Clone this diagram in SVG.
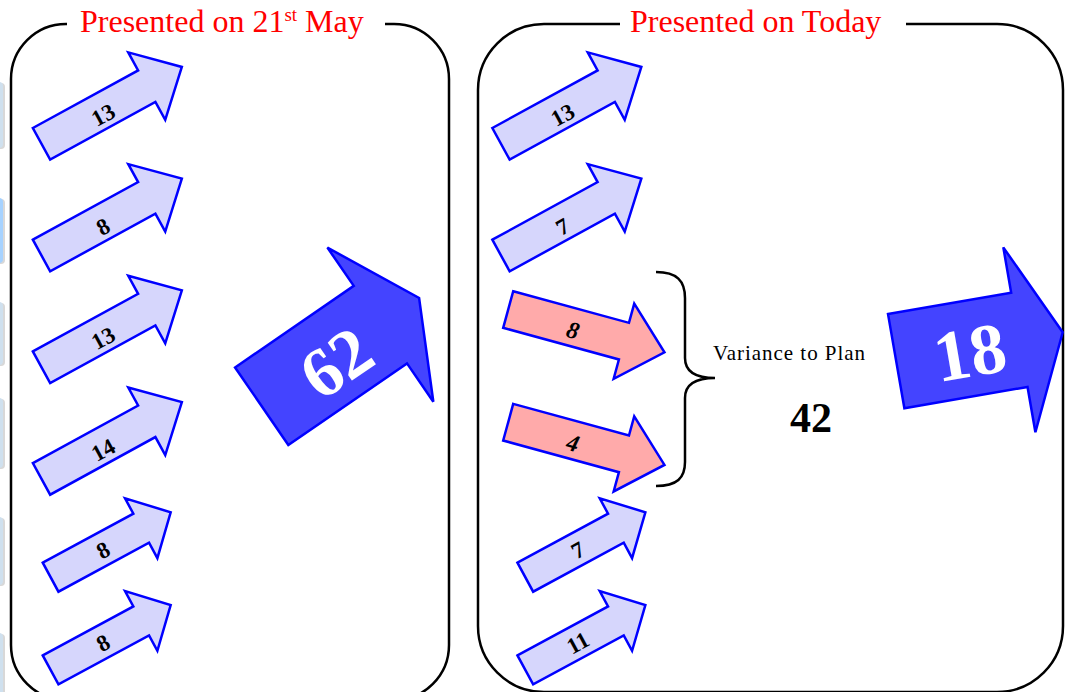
<svg xmlns="http://www.w3.org/2000/svg" width="1071" height="692" viewBox="0 0 1071 692">
  <defs>
    <style>
      .frame { fill: none; stroke: #000; stroke-width: 2.5; }
      .title { font-family: "Liberation Serif", "Times New Roman", serif; font-size: 32px; fill: #ff0000; }
      .lite { fill: #d6d6fc; stroke: #0000ff; stroke-width: 2.5; stroke-linejoin: miter; }
      .pink { fill: #ffaaaa; stroke: #0000ff; stroke-width: 2.5; }
      .bold { fill: #4444ff; stroke: #0000ff; stroke-width: 2.5; }
      .lbl { font-family: "Liberation Serif", "Times New Roman", serif; font-weight: bold; font-size: 23px; fill: #000; text-anchor: middle; }
      .lbl-i { font-family: "Liberation Serif", "Times New Roman", serif; font-weight: bold; font-style: italic; font-size: 24px; fill: #000; text-anchor: middle; }
      .big { font-family: "Liberation Serif", "Times New Roman", serif; font-weight: bold; fill: #fff; text-anchor: middle; }
      .note { font-family: "Liberation Serif", "Times New Roman", serif; fill: #000; }
      .tab { fill: #cfe0ee; }
      .tab-on { fill: #a6d2ff; }
      .tab-shade { fill: #d8d8d8; }
    </style>
    <!-- arrow outlines, tail centred on the origin, pointing along +x -->
    <path id="arrowA" d="M0,-18 H120 V-38.5 L160,0 L120,38.5 V18 H0 Z"/>
    <path id="arrowB" d="M0,-19 H120 V-39 L162,0 L120,39 V19 H0 Z"/>
    <path id="arrowC" d="M0,-16.5 H103 V-34 L136.5,0 L103,34 V16.5 H0 Z"/>
    <path id="arrowD" d="M0,-47 H144 V-93.5 L191,0 L144,93.5 V47 H0 Z"/>
    <path id="arrowE" d="M0,-47.8 H125 V-93.8 L169,0 L125,93.8 V47.8 H0 Z"/>
  </defs>

  <rect width="1071" height="692" fill="#fff"/>

  <!-- side tabs cut off at the left edge -->
  <g id="side-tabs">
    <rect class="tab-shade" x="-20" y="83" width="25" height="66" rx="4"/>
    <rect class="tab" x="-20" y="82" width="23" height="66" rx="4"/>
    <rect class="tab-shade" x="-20" y="199" width="25" height="65" rx="4"/>
    <rect class="tab-on" x="-20" y="198" width="23" height="65" rx="4"/>
    <rect class="tab-shade" x="-20" y="303" width="25" height="63" rx="4"/>
    <rect class="tab" x="-20" y="302" width="23" height="63" rx="4"/>
    <rect class="tab-shade" x="-20" y="399" width="25" height="70" rx="4"/>
    <rect class="tab" x="-20" y="398" width="23" height="70" rx="4"/>
    <rect class="tab-shade" x="-20" y="518" width="25" height="68" rx="4"/>
    <rect class="tab" x="-20" y="517" width="23" height="68" rx="4"/>
    <rect class="tab-shade" x="-20" y="634" width="25" height="70" rx="4"/>
    <rect class="tab" x="-20" y="633" width="23" height="70" rx="4"/>
  </g>

  <!-- left panel -->
  <g id="panel-may">
    <path class="frame" d="M67,24 H66 A55,55 0 0 0 11,79 V645 A55,55 0 0 0 66,700 H394 A55,55 0 0 0 449,645 V79 A55,55 0 0 0 394,24 H385"/>
    <text class="title" x="80" y="32">Presented on 21<tspan font-size="19" dy="-11">st</tspan><tspan dy="11" dx="8">May</tspan></text>
  </g>

  <!-- right panel -->
  <g id="panel-today">
    <path class="frame" d="M620,24 H544 A66,66 0 0 0 478,90 V626 A66,66 0 0 0 544,692 H997 A66,66 0 0 0 1063,626 V90 A66,66 0 0 0 997,24 H906"/>
    <text class="title" x="630" y="32">Presented on Today</text>
  </g>

  <!-- left column -->
  <g id="may-1" transform="translate(41.5,143.8) rotate(-28.7)">
    <use href="#arrowA" class="lite"/>
    <text class="lbl" x="68" y="12">13</text>
  </g>
  <g id="may-2" transform="translate(41.5,255.5) rotate(-28.7)">
    <use href="#arrowA" class="lite"/>
    <text class="lbl" x="68" y="12">8</text>
  </g>
  <g id="may-3" transform="translate(41.5,367.2) rotate(-28.7)">
    <use href="#arrowA" class="lite"/>
    <text class="lbl" x="68" y="12">13</text>
  </g>
  <g id="may-4" transform="translate(41.5,478.9) rotate(-28.7)">
    <use href="#arrowA" class="lite"/>
    <text class="lbl" x="68" y="12">14</text>
  </g>
  <g id="may-5" transform="translate(50.6,577.2) rotate(-28.4)">
    <use href="#arrowC" class="lite"/>
    <text class="lbl" x="59" y="9">8</text>
  </g>
  <g id="may-6" transform="translate(50.6,669.9) rotate(-28.4)">
    <use href="#arrowC" class="lite"/>
    <text class="lbl" x="59" y="9">8</text>
  </g>

  <!-- left total -->
  <g id="may-total" transform="translate(261.7,406.2) rotate(-34.5)">
    <use href="#arrowD" class="bold"/>
    <text class="big" x="86" y="30" font-size="70">62</text>
  </g>

  <!-- right column -->
  <g id="today-1" transform="translate(501,143.8) rotate(-28.7)">
    <use href="#arrowA" class="lite"/>
    <text class="lbl" x="68" y="12">13</text>
  </g>
  <g id="today-2" transform="translate(501,255.5) rotate(-28.7)">
    <use href="#arrowA" class="lite"/>
    <text class="lbl" x="68" y="12">7</text>
  </g>
  <g id="today-3" transform="translate(508.2,309.5) rotate(15.3)">
    <use href="#arrowB" class="pink"/>
    <text class="lbl-i" x="68" y="11">8</text>
  </g>
  <g id="today-4" transform="translate(508.2,422.2) rotate(15.3)">
    <use href="#arrowB" class="pink"/>
    <text class="lbl-i" x="68" y="11">4</text>
  </g>
  <g id="today-5" transform="translate(525.3,577.2) rotate(-28.4)">
    <use href="#arrowC" class="lite"/>
    <text class="lbl" x="59" y="9">7</text>
  </g>
  <g id="today-6" transform="translate(525.3,669.9) rotate(-28.4)">
    <use href="#arrowC" class="lite"/>
    <text class="lbl" x="59" y="9">11</text>
  </g>

  <!-- bracket grouping the two shortfalls -->
  <g id="connectors">
    <path class="frame" d="M656,272 C677,272 685,281 685,298 V358 C685,371 695,378 715,378 C695,378 685,385 685,398 V462 C685,478 677,486 656,486"/>
  </g>

  <g id="variance">
    <text class="note" x="713" y="360" font-size="21" textLength="152" lengthAdjust="spacing">Variance to Plan</text>
    <text class="note" x="811" y="432" font-size="42" font-weight="bold" text-anchor="middle">42</text>
  </g>

  <!-- right total -->
  <g id="today-total" transform="translate(896.2,361.2) rotate(-9.85)">
    <use href="#arrowE" class="bold"/>
    <text class="big" x="74" y="28" font-size="72">18</text>
  </g>
</svg>
